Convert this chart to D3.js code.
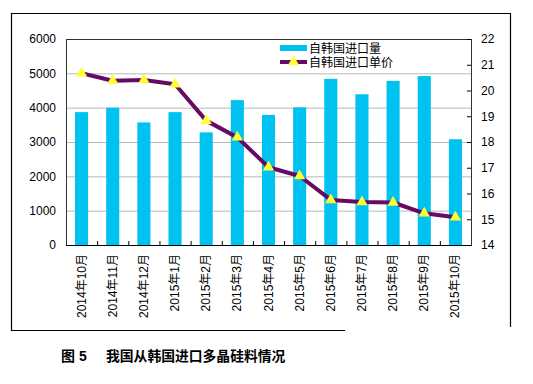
<!DOCTYPE html>
<html>
<head>
<meta charset="utf-8">
<script src="https://cdn.jsdelivr.net/npm/d3@7"></script>
<style>
  body { margin: 0; background: #fff; }
  text { font-family: "Liberation Sans", "Noto Sans CJK SC", sans-serif; }
</style>
</head>
<body>
<svg id="chart-svg"></svg>
<script>
const months = [
  "2014年10月", "2014年11月", "2014年12月", "2015年1月", "2015年2月",
  "2015年3月", "2015年4月", "2015年5月", "2015年6月", "2015年7月",
  "2015年8月", "2015年9月", "2015年10月",
];
const volume = [3870, 4000, 3570, 3870, 3280, 4220, 3790, 4010, 4840, 4390, 4780, 4920, 3080];
const unitPrice = [20.67, 20.38, 20.41, 20.24, 18.83, 18.18, 17.02, 16.68, 15.75, 15.67, 15.65, 15.23, 15.08];
const leftTicks = [0, 1000, 2000, 3000, 4000, 5000, 6000];
const rightTicks = [14, 15, 16, 17, 18, 19, 20, 21, 22];
const seriesNames = ["自韩国进口量", "自韩国进口单价"];

const svgWidth = 533;
const svgHeight = 384;
const m_left = 66;
const m_top = 39;
const width = 405;
const height = 206;

const barColor = "#00c2f0";
const lineColor = "#660a66";
const markerColor = "#ffff33";

const svg = d3.select("#chart-svg").attr("width", svgWidth).attr("height", svgHeight);

// outer frame (bottom-right corner is cut off in the source)
svg.append("path")
  .attr("d", "M345,330.5 H11.5 V13.5 H510.5 V327")
  .attr("fill", "none")
  .attr("stroke", "#000")
  .attr("stroke-width", 1.2);

const chart = svg.append("g").attr("transform", `translate(${m_left}, ${m_top})`);

const xScale = d3.scaleBand().domain(months).range([0, width]).paddingInner(0.58).paddingOuter(0.29);
const xOuter = d3.scaleBand().domain(months).range([0, width]);
const yLeft = d3.scaleLinear().domain([0, 6000]).range([height, 0]);
const yRight = d3.scaleLinear().domain([14, 22]).range([height, 0]);

// gridlines
chart.append("g")
  .selectAll("line")
  .data(leftTicks.slice(1, -1))
  .join("line")
  .attr("x1", 0)
  .attr("x2", width)
  .attr("y1", (d) => yLeft(d) + 0.5)
  .attr("y2", (d) => yLeft(d) + 0.5)
  .attr("stroke", "#b8b8b8");

// bars
chart.selectAll(".bar")
  .data(volume)
  .join("rect")
  .attr("class", "bar")
  .attr("x", (d, i) => xScale(months[i]))
  .attr("y", (d) => yLeft(d))
  .attr("width", xScale.bandwidth())
  .attr("height", (d) => height - yLeft(d))
  .attr("fill", barColor);

// plot border
chart.append("rect")
  .attr("x", 0.5).attr("y", 0.5)
  .attr("width", width).attr("height", height)
  .attr("fill", "none")
  .attr("stroke", "#333");

// axes
const leftAxis = chart.append("g")
  .call(d3.axisLeft(yLeft).tickValues(leftTicks).tickFormat(d3.format("d")).tickSize(0).tickPadding(10));
leftAxis.select(".domain").remove();
leftAxis.selectAll("text").attr("font-size", 12).attr("fill", "#000");

const rightAxis = chart.append("g")
  .attr("transform", `translate(${width}, 0)`)
  .call(d3.axisRight(yRight).tickValues(rightTicks).tickSizeInner(-4).tickSizeOuter(0).tickPadding(10));
rightAxis.select(".domain").remove();
rightAxis.selectAll("line").attr("stroke", "#000");
rightAxis.selectAll("text").attr("font-size", 12).attr("fill", "#000");

// category separators on x axis
chart.append("g")
  .selectAll("line")
  .data(months.slice(1))
  .join("line")
  .attr("x1", (d) => xOuter(d) + 0.5)
  .attr("x2", (d) => xOuter(d) + 0.5)
  .attr("y1", height)
  .attr("y2", height - 4)
  .attr("stroke", "#000");
chart.append("line")
  .attr("x1", 0).attr("x2", width + 0.5)
  .attr("y1", height + 0.5).attr("y2", height + 0.5)
  .attr("stroke", "#000");

// rotated month labels
chart.append("g")
  .selectAll("text")
  .data(months)
  .join("text")
  .attr("transform", (d) => `translate(${xOuter(d) + xOuter.bandwidth() / 2 + 4}, ${height + 9}) rotate(-90)`)
  .attr("text-anchor", "end")
  .attr("font-size", 12)
  .attr("fill", "#000")
  .text((d) => d);

// price line
const line = d3.line()
  .x((d, i) => xOuter(months[i]) + xOuter.bandwidth() / 2)
  .y((d) => yRight(d));

chart.append("path")
  .datum(unitPrice)
  .attr("d", line)
  .attr("fill", "none")
  .attr("stroke", lineColor)
  .attr("stroke-width", 4)
  .attr("stroke-linejoin", "round");

const tri = d3.symbol().type(d3.symbolTriangle).size(55);
chart.selectAll(".marker")
  .data(unitPrice)
  .join("path")
  .attr("class", "marker")
  .attr("d", tri)
  .attr("transform", (d, i) => `translate(${xOuter(months[i]) + xOuter.bandwidth() / 2}, ${yRight(d)})`)
  .attr("fill", markerColor);

// legend
const legend = svg.append("g").attr("transform", "translate(280, 48)");
legend.append("rect")
  .attr("x", 0).attr("y", -3).attr("width", 27).attr("height", 6)
  .attr("fill", barColor);
legend.append("line")
  .attr("x1", 0).attr("x2", 27).attr("y1", 14).attr("y2", 14)
  .attr("stroke", lineColor).attr("stroke-width", 4);
legend.append("path")
  .attr("d", tri)
  .attr("transform", "translate(13.5, 14)")
  .attr("fill", markerColor);
legend.selectAll(".legend-text")
  .data(seriesNames)
  .join("text")
  .attr("class", "legend-text")
  .attr("x", 29)
  .attr("y", (d, i) => i * 14 + 4.5)
  .attr("font-size", 12)
  .attr("fill", "#000")
  .text((d) => d);

// caption
svg.append("text")
  .attr("x", 61).attr("y", 361)
  .attr("font-size", 14).attr("font-weight", "bold")
  .attr("font-family", "Noto Sans CJK SC")
  .text("图 5");
svg.append("text")
  .attr("x", 106).attr("y", 361)
  .attr("font-size", 13.8).attr("font-weight", "bold")
  .attr("font-family", "Noto Sans CJK SC")
  .text("我国从韩国进口多晶硅料情况");
</script>
</body>
</html>
